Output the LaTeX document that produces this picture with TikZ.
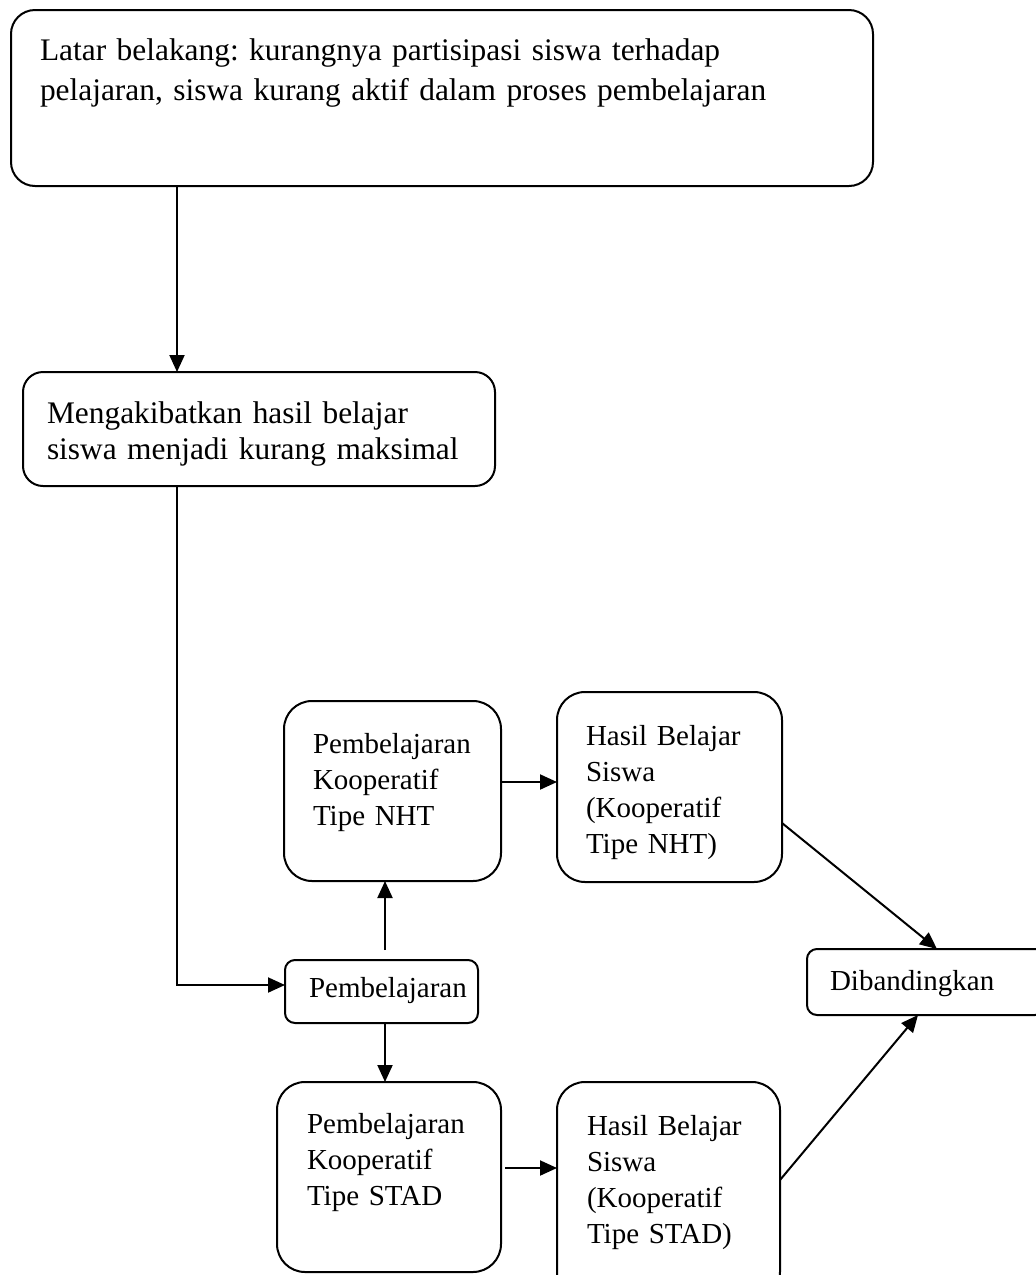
\documentclass[tikz,border=0pt]{standalone}
\usepackage{fontspec}
\setmainfont{Liberation Serif}
\usetikzlibrary{arrows.meta, positioning, calc}
\hyphenpenalty=10000
\exhyphenpenalty=10000
\frenchspacing

\tikzset{
  flowbox/.style={draw, line width=1pt, anchor=north west, align=left, inner ysep=0pt, outer sep=0pt, font=\fontsize{14.5pt}{18pt}\selectfont},
  bigtext/.style={font=\fontsize{15.7pt}{#1}\selectfont},
  flowarrow/.style={line width=1pt, -{Triangle[length=8.5pt,width=7.5pt]}}
}

\begin{document}
\begin{tikzpicture}[x=0.5pt, y=-0.5pt]
  \useasboundingbox (0,0) rectangle (1035,1275);

  % latar belakang
  \node[flowbox, bigtext=20pt, rounded corners=12pt, inner xsep=14.5pt, text width=402pt, text height=25pt, text depth=63pt] (latar) at (11,10) {Latar belakang: kurangnya partisipasi siswa terhadap\\pelajaran, siswa kurang aktif dalam proses pembelajaran};

  % akibat
  \node[flowbox, bigtext=18pt, rounded corners=10pt, inner xsep=12pt, text width=212pt, text height=25.5pt, text depth=31.5pt] (akibat) at (23,372) {Mengakibatkan hasil belajar\\siswa menjadi kurang maksimal};

  % pembelajaran NHT / STAD
  \node[flowbox, rounded corners=14pt, inner xsep=14.5pt, text width=79.5pt, text height=26pt, text depth=64pt] (nht) at (284,701) {Pembelajaran\\Kooperatif\\Tipe NHT};
  \node[flowbox, rounded corners=5pt, inner xsep=12pt, text width=72.5pt, text height=18.5pt, text depth=13pt] (mid) at (285,960) {Pembelajaran};
  \node[flowbox, rounded corners=14pt, inner xsep=15pt, text width=82pt, text height=25.5pt, text depth=69.5pt] (stad) at (277,1082) {Pembelajaran\\Kooperatif\\Tipe STAD};

  % hasil belajar
  \node[flowbox, rounded corners=14pt, inner xsep=14.5pt, text width=83.5pt, text height=26.5pt, text depth=68.5pt] (hnht) at (557,692) {Hasil Belajar\\Siswa\\(Kooperatif\\Tipe NHT)};
  \node[flowbox, rounded corners=14pt, inner xsep=15pt, text width=81.5pt, text height=26.5pt, text depth=82.5pt] (hstad) at (557,1082) {Hasil Belajar\\Siswa\\(Kooperatif\\Tipe STAD)};

  % dibandingkan
  \node[flowbox, rounded corners=5pt, inner xsep=11.5pt, text width=96pt, text height=20.5pt, text depth=12.5pt] (dib) at (807,949) {Dibandingkan};

  % guide coordinates
  \coordinate (colA) at (177,0);
  \coordinate (bend) at (177,985);
  \coordinate (colB) at (385,0);
  \coordinate (rowA) at (0,782);
  \coordinate (rowB) at (0,1168);
  \coordinate (rowC) at (0,823);
  \coordinate (rowD) at (0,1180);

  % connectors
  \draw[flowarrow] (latar.south -| colA) -- (akibat.north -| colA);
  \draw[flowarrow] (akibat.south -| colA) -- (bend) -- (mid.west |- bend);
  \draw[flowarrow] ($(mid.north -| colB)+(0,-10)$) -- (nht.south -| colB);
  \draw[flowarrow] (mid.south -| colB) -- (stad.north -| colB);
  \draw[flowarrow] (nht.east |- rowA) -- (hnht.west |- rowA);
  \draw[flowarrow] ($(stad.east |- rowB)+(4,0)$) -- (hstad.west |- rowB);
  \draw[flowarrow] (hnht.east |- rowC) -- ($(dib.north west)+(130,0)$);
  \draw[flowarrow] (hstad.east |- rowD) -- ($(dib.south west)+(111,0)$);
\end{tikzpicture}
\end{document}
